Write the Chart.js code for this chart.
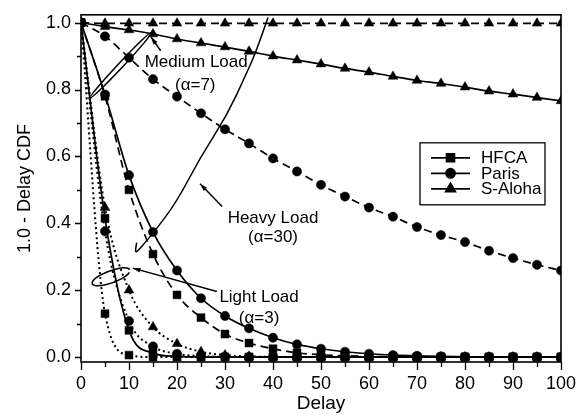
<!DOCTYPE html>
<html>
<head>
<meta charset="utf-8">
<title>1.0 - Delay CDF</title>
<script src="https://cdn.jsdelivr.net/npm/chart.js@4.4.1/dist/chart.umd.min.js"></script>
<style>
  html, body { margin: 0; padding: 0; background: #fff; }
  #chart { display: block; }
</style>
</head>
<body>
<canvas id="chart" width="587" height="415"></canvas>
<script>
// x values: delay, one marker every 5 units
const delays = [0, 5, 10, 15, 20, 25, 30, 35, 40, 45, 50, 55, 60, 65, 70, 75, 80, 85, 90, 95, 100];

// 1.0 - Delay CDF
// light load (alpha=3) -> dotted
const hfcaLight  = [1, 0.13, 0.006, 0, 0, 0, 0, 0, 0, 0, 0, 0, 0, 0, 0, 0, 0, 0, 0, 0, 0];
const parisLight = [1, 0.376, 0.108, 0.032, 0.01, 0.003, 0.001, 0, 0, 0, 0, 0, 0, 0, 0, 0, 0, 0, 0, 0, 0];
const alohaLight = [1, 0.447, 0.2, 0.09, 0.04, 0.016, 0.006, 0.002, 0.001, 0, 0, 0, 0, 0, 0, 0, 0, 0, 0, 0, 0];
// medium load (alpha=7) -> solid
const hfcaMedium  = [1, 0.415, 0.08, 0.012, 0.002, 0, 0, 0, 0, 0, 0, 0, 0, 0, 0, 0, 0, 0, 0, 0, 0];
const parisMedium = [1, 0.785, 0.544, 0.374, 0.259, 0.176, 0.123, 0.086, 0.058, 0.038, 0.025, 0.016, 0.01, 0.006, 0.004, 0.002, 0.001, 0, 0, 0, 0];
const alohaMedium = [1, 0.988, 0.978, 0.966, 0.951, 0.939, 0.927, 0.914, 0.9, 0.888, 0.876, 0.863, 0.852, 0.839, 0.827, 0.818, 0.807, 0.795, 0.786, 0.776, 0.766];
// heavy load (alpha=30) -> dashed
const hfcaHeavy  = [1, 0.78, 0.5, 0.308, 0.186, 0.118, 0.069, 0.042, 0.025, 0.013, 0.007, 0.004, 0.002, 0.001, 0, 0, 0, 0, 0, 0, 0];
const parisHeavy = [1, 0.959, 0.895, 0.831, 0.779, 0.729, 0.681, 0.639, 0.594, 0.555, 0.515, 0.48, 0.447, 0.42, 0.389, 0.365, 0.344, 0.318, 0.296, 0.276, 0.259];
const alohaHeavy = [1, 0.998, 0.998, 0.998, 0.998, 0.998, 0.998, 0.998, 0.998, 0.998, 0.998, 0.998, 0.998, 0.998, 0.998, 0.998, 0.998, 0.998, 0.998, 0.998, 0.998];

const protocols = ['HFCA', 'Paris', 'S-Aloha'];

// text notes on the plot, in data units
const loadNotes = [
  { text: 'Medium Load', x: 24, y: 0.88 },
  { text: '(\u03b1=7)', x: 23.8, y: 0.813 },
  { text: 'Heavy Load', x: 40, y: 0.415 },
  { text: '(\u03b1=30)', x: 40, y: 0.357 },
  { text: 'Light Load', x: 37.1, y: 0.178 },
  { text: '(\u03b1=3)', x: 37.1, y: 0.117 }
];
const noteArrows = [
  { from: [16.6, 0.916], to: [14.6, 0.957] },
  { from: [29.4, 0.45], to: [24.8, 0.518] },
  { from: [28.3, 0.196], to: [10.8, 0.266] }
];
const heavyLoop = [[38.96, 1.015], [36.6, 0.917], [34.5, 0.849], [30.4, 0.722], [24.8, 0.596],
  [19.9, 0.463], [15.06, 0.371], [13.3, 0.342], [11.9, 0.318], [11.25, 0.313], [11.6, 0.342]];

const FONT = '"Liberation Sans", Arial, Helvetica, sans-serif';
Chart.defaults.font.family = FONT;
Chart.defaults.color = '#000';

const markerStyle = { HFCA: ['rect', 5.6], Paris: ['circle', 4.6], 'S-Aloha': ['triangle', 5.6] };
const loadStyle = {
  light:  { dash: [2, 3], width: 2 },
  medium: { dash: [], width: 1.7 },
  heavy:  { dash: [8, 5], width: 1.7 }
};

function series(name, load, values) {
  const m = markerStyle[name];
  const s = loadStyle[load];
  return {
    label: name + ' ' + load,
    data: delays.map((d, i) => ({ x: d, y: values[i] })),
    borderColor: '#000',
    backgroundColor: '#000',
    borderWidth: s.width,
    borderDash: s.dash,
    pointStyle: m[0],
    pointRadius: m[1],
    pointBorderWidth: 0.5,
    pointBorderColor: '#000',
    pointBackgroundColor: '#000',
    cubicInterpolationMode: 'monotone',
    fill: false
  };
}

const datasets = [
  series('HFCA', 'light', hfcaLight),
  series('Paris', 'light', parisLight),
  series('S-Aloha', 'light', alohaLight),
  series('HFCA', 'medium', hfcaMedium),
  series('Paris', 'medium', parisMedium),
  series('S-Aloha', 'medium', alohaMedium),
  series('HFCA', 'heavy', hfcaHeavy),
  series('Paris', 'heavy', parisHeavy),
  series('S-Aloha', 'heavy', alohaHeavy)
];

// frame, minor/major ticks, notes and the boxed legend
const figureExtras = {
  id: 'figureExtras',
  afterDatasetsDraw(chart) {
    const { ctx, chartArea: a, scales: { x, y } } = chart;
    const px = v => x.getPixelForValue(v);
    const py = v => y.getPixelForValue(v);
    ctx.save();
    ctx.strokeStyle = '#000';
    ctx.fillStyle = '#000';
    ctx.setLineDash([]);

    // frame
    ctx.lineWidth = 1.6;
    ctx.strokeRect(a.left, a.top, a.right - a.left, a.bottom - a.top);

    // ticks pointing out
    ctx.lineWidth = 1.3;
    ctx.beginPath();
    y.ticks.forEach(t => {
      const major = Math.round(t.value * 10) % 2 === 0;
      const p = Math.round(py(t.value)) + 0.5;
      ctx.moveTo(a.left - (major ? 6 : 4), p);
      ctx.lineTo(a.left, p);
    });
    x.ticks.forEach(t => {
      const major = Math.round(t.value) % 10 === 0;
      const p = Math.round(px(t.value)) + 0.5;
      ctx.moveTo(p, a.bottom);
      ctx.lineTo(p, a.bottom + (major ? 8 : 5));
    });
    ctx.stroke();

    // notes
    ctx.font = '17px ' + FONT;
    ctx.textAlign = 'center';
    ctx.textBaseline = 'middle';
    loadNotes.forEach(n => ctx.fillText(n.text, px(n.x), py(n.y)));

    ctx.lineWidth = 1.5;
    noteArrows.forEach(ar => {
      const x0 = px(ar.from[0]), y0 = py(ar.from[1]);
      const x1 = px(ar.to[0]), y1 = py(ar.to[1]);
      const ang = Math.atan2(y1 - y0, x1 - x0);
      ctx.beginPath();
      ctx.moveTo(x0, y0);
      ctx.lineTo(x1, y1);
      ctx.stroke();
      ctx.beginPath();
      ctx.moveTo(x1, y1);
      ctx.lineTo(x1 - 8 * Math.cos(ang - 0.3), y1 - 8 * Math.sin(ang - 0.3));
      ctx.lineTo(x1 - 8 * Math.cos(ang + 0.3), y1 - 8 * Math.sin(ang + 0.3));
      ctx.closePath();
      ctx.fill();
    });

    // heavy load loop
    ctx.beginPath();
    const hp = heavyLoop.map(p => [px(p[0]), py(p[1])]);
    ctx.moveTo(hp[0][0], hp[0][1]);
    for (let i = 1; i < hp.length - 1; i++) {
      const mx = (hp[i][0] + hp[i + 1][0]) / 2, my = (hp[i][1] + hp[i + 1][1]) / 2;
      ctx.quadraticCurveTo(hp[i][0], hp[i][1], mx, my);
    }
    ctx.lineTo(hp[hp.length - 1][0], hp[hp.length - 1][1]);
    ctx.stroke();

    // medium load loop (thin)
    const m0x = px(1.9), m0y = py(0.775), m1x = px(14.7), m1y = py(0.971);
    ctx.beginPath();
    ctx.ellipse((m0x + m1x) / 2, (m0y + m1y) / 2, Math.hypot(m1x - m0x, m1y - m0y) / 2, 2.5,
      Math.atan2(m1y - m0y, m1x - m0x), 0, Math.PI * 2);
    ctx.stroke();

    // light load loop
    ctx.beginPath();
    ctx.ellipse(px(6.25), py(0.24), 20, 6, -0.35, 0.35, Math.PI * 2 - 0.05);
    ctx.stroke();

    // legend box
    const bx = a.right - 141, by = a.top + 128, bw = 125, bh = 62;
    ctx.lineWidth = 1.3;
    ctx.strokeRect(bx, by, bw, bh);
    ctx.textAlign = 'left';
    protocols.forEach((name, i) => {
      const ry = by + 15 + i * 15.5;
      ctx.lineWidth = 1.7;
      ctx.beginPath();
      ctx.moveTo(bx + 11, ry);
      ctx.lineTo(bx + 50, ry);
      ctx.stroke();
      const m = markerStyle[name];
      Chart.helpers.drawPoint(ctx, { pointStyle: m[0], radius: m[1], rotation: 0, borderWidth: 0.5 }, bx + 30.5, ry);
      ctx.fillText(name, bx + 61, ry + 1);
    });
    ctx.restore();
  }
};

new Chart(document.getElementById('chart'), {
  type: 'line',
  data: { datasets: datasets },
  options: {
    responsive: false,
    animation: false,
    events: [],
    layout: { autoPadding: false, padding: { top: 7, right: 26, left: 0, bottom: 0 } },
    plugins: { legend: { display: false }, tooltip: { enabled: false } },
    scales: {
      x: {
        type: 'linear',
        min: 0,
        max: 100,
        afterFit: s => { s.height = 53; },
        border: { display: false },
        grid: { drawOnChartArea: false, tickLength: 8, tickColor: 'rgba(0,0,0,0)' },
        ticks: {
          stepSize: 5,
          autoSkip: false,
          maxRotation: 0,
          padding: 3,
          font: { size: 18 },
          callback: v => (Math.round(v) % 10 === 0 ? String(Math.round(v)) : '')
        },
        title: { display: true, text: 'Delay', font: { size: 19 }, padding: { top: 0, bottom: 0 } }
      },
      y: {
        type: 'linear',
        min: -0.0146,
        max: 1.0234,
        afterFit: s => { s.width = 81; },
        border: { display: false },
        grid: { drawOnChartArea: false, tickLength: 6, tickColor: 'rgba(0,0,0,0)' },
        ticks: {
          stepSize: 0.1,
          includeBounds: false,
          autoSkip: false,
          padding: 4,
          font: { size: 18 },
          callback: v => (Math.round(v * 10) % 2 === 0 ? v.toFixed(1) : '')
        },
        title: { display: true, text: '1.0 - Delay CDF', font: { size: 18 }, padding: { top: 14, bottom: 0 } }
      }
    }
  },
  plugins: [figureExtras]
});
</script>
</body>
</html>
